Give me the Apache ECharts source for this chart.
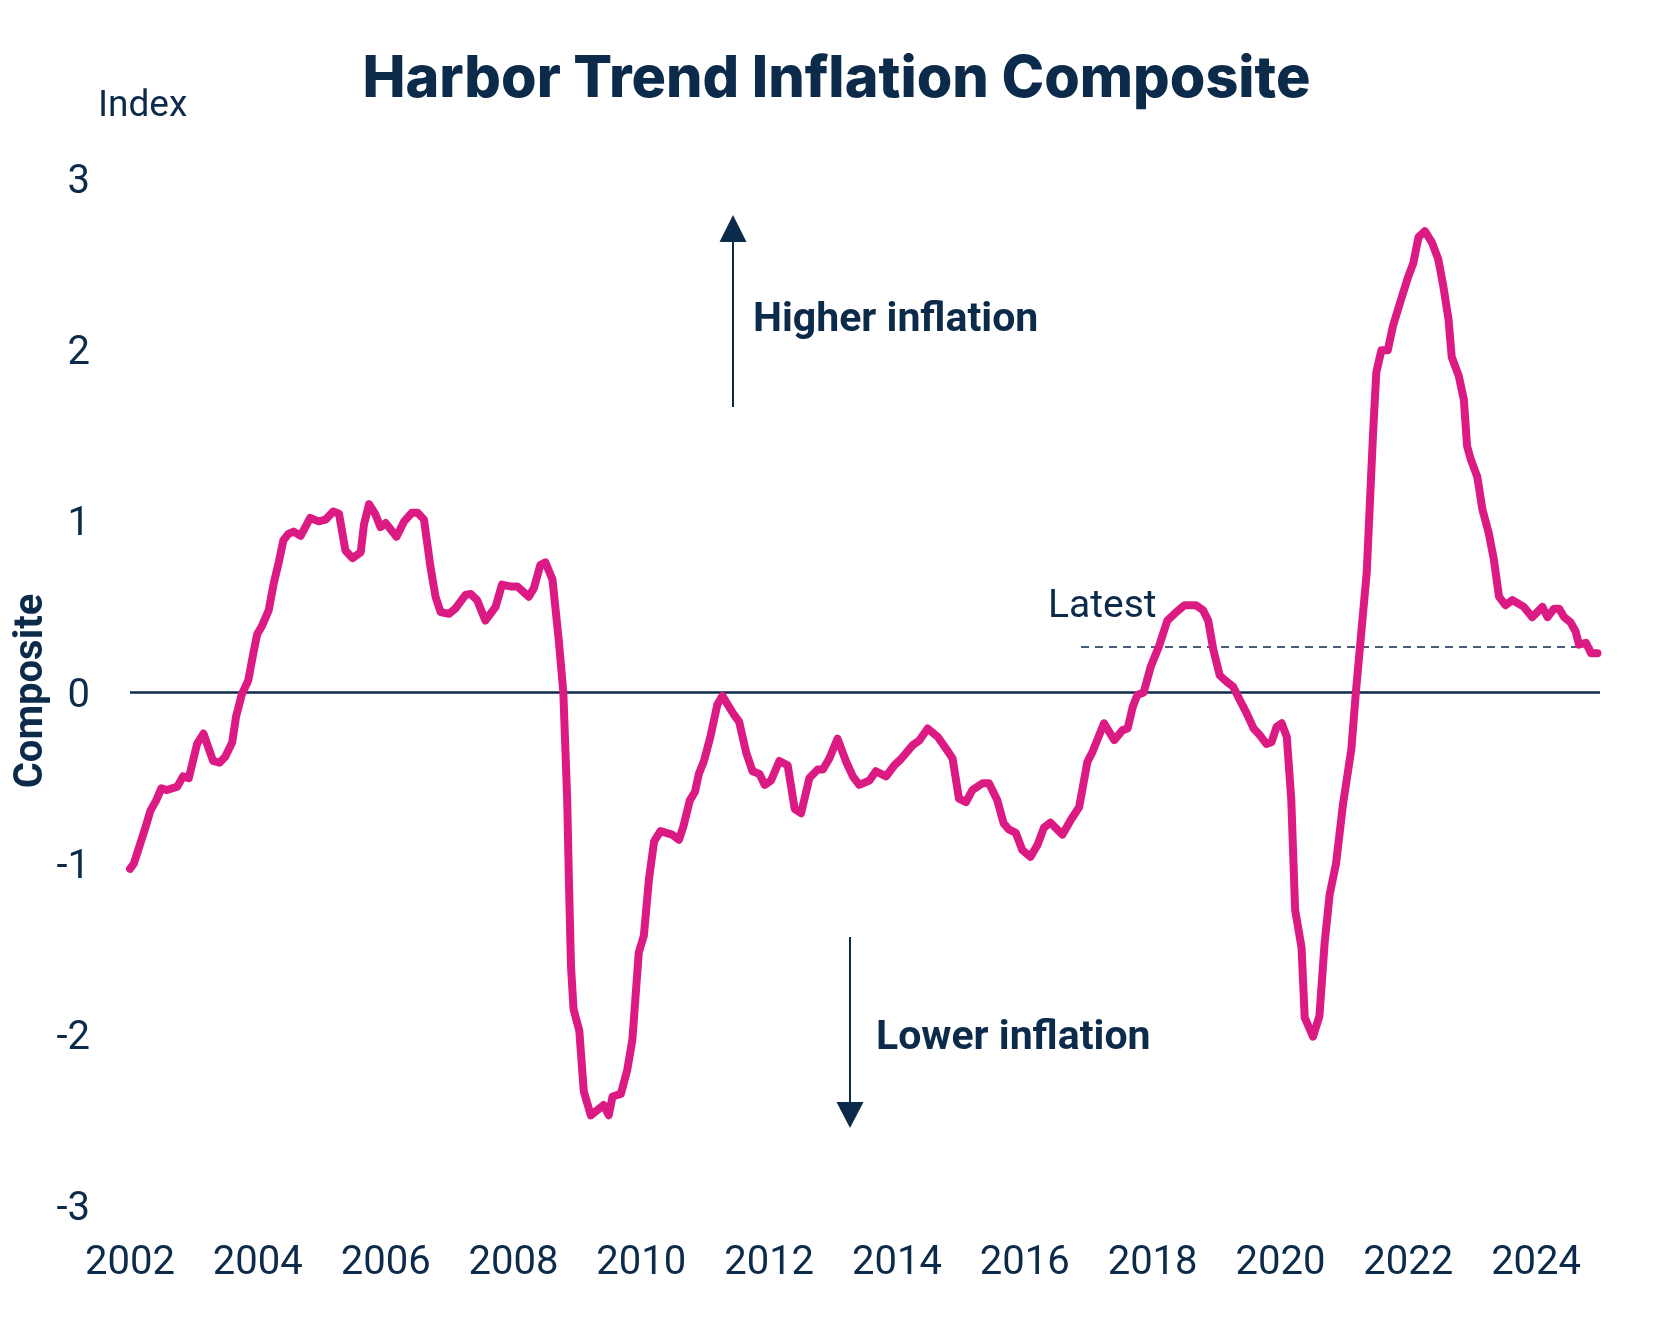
<!DOCTYPE html>
<html>
<head>
<meta charset="utf-8">
<script src="https://cdn.jsdelivr.net/npm/echarts@6/dist/echarts.min.js"></script>
<style>
html,body{margin:0;padding:0;background:#fff;}
#chart{width:1673px;height:1343px;}
</style>
</head>
<body>
<div id="chart"></div>
<script>
// ---- Data (decimal year, composite index) ----
const years = [2002.00,2002.06,2002.24,2002.32,2002.41,2002.49,2002.58,2002.74,2002.83,2002.92,2003.05,2003.15,2003.30,2003.40,2003.49,2003.60,2003.66,2003.75,2003.85,2003.93,2003.99,2004.06,2004.17,2004.25,2004.33,2004.40,2004.48,2004.56,2004.67,2004.82,2004.95,2005.06,2005.18,2005.27,2005.37,2005.48,2005.61,2005.66,2005.74,2005.84,2005.92,2006.00,2006.17,2006.29,2006.41,2006.50,2006.60,2006.70,2006.78,2006.86,2006.99,2007.09,2007.25,2007.33,2007.43,2007.56,2007.72,2007.82,2007.95,2008.06,2008.24,2008.32,2008.42,2008.50,2008.61,2008.71,2008.78,2008.84,2008.87,2008.90,2008.94,2009.03,2009.10,2009.21,2009.41,2009.49,2009.55,2009.68,2009.78,2009.86,2009.96,2010.04,2010.12,2010.20,2010.30,2010.48,2010.59,2010.66,2010.76,2010.84,2010.90,2010.98,2011.08,2011.19,2011.27,2011.35,2011.45,2011.53,2011.64,2011.74,2011.85,2011.93,2012.03,2012.16,2012.29,2012.40,2012.50,2012.63,2012.76,2012.84,2012.94,2013.07,2013.20,2013.31,2013.41,2013.57,2013.67,2013.83,2013.96,2014.06,2014.24,2014.35,2014.48,2014.64,2014.79,2014.87,2014.97,2015.08,2015.18,2015.34,2015.44,2015.57,2015.67,2015.75,2015.86,2015.96,2016.09,2016.20,2016.30,2016.40,2016.59,2016.72,2016.85,2016.98,2017.06,2017.24,2017.40,2017.53,2017.61,2017.69,2017.76,2017.86,2017.97,2018.10,2018.23,2018.37,2018.50,2018.68,2018.79,2018.87,2018.95,2019.05,2019.16,2019.26,2019.39,2019.47,2019.58,2019.68,2019.78,2019.86,2019.94,2020.02,2020.10,2020.17,2020.23,2020.33,2020.38,2020.51,2020.61,2020.69,2020.77,2020.87,2020.98,2021.11,2021.18,2021.35,2021.45,2021.50,2021.58,2021.68,2021.76,2021.89,2022.00,2022.08,2022.16,2022.26,2022.37,2022.47,2022.55,2022.63,2022.68,2022.79,2022.87,2022.92,2022.98,2023.08,2023.16,2023.26,2023.34,2023.42,2023.52,2023.63,2023.81,2023.94,2024.10,2024.18,2024.28,2024.36,2024.44,2024.54,2024.62,2024.67,2024.78,2024.86,2024.96];
const composite = [-1.03,-1.00,-0.79,-0.69,-0.63,-0.56,-0.57,-0.55,-0.49,-0.50,-0.30,-0.24,-0.40,-0.41,-0.375,-0.29,-0.14,-0.01,0.07,0.23,0.34,0.385,0.48,0.64,0.765,0.89,0.927,0.94,0.915,1.02,1.00,1.01,1.057,1.044,0.83,0.785,0.82,0.98,1.10,1.04,0.966,0.99,0.91,1.00,1.05,1.05,1.01,0.736,0.56,0.47,0.46,0.49,0.57,0.576,0.54,0.42,0.50,0.63,0.62,0.62,0.56,0.61,0.745,0.76,0.66,0.30,0.0,-0.62,-1.14,-1.60,-1.85,-1.976,-2.33,-2.47,-2.41,-2.47,-2.36,-2.345,-2.205,-2.03,-1.52,-1.42,-1.09,-0.87,-0.81,-0.83,-0.86,-0.78,-0.63,-0.58,-0.476,-0.40,-0.26,-0.07,-0.02,-0.07,-0.13,-0.17,-0.35,-0.46,-0.476,-0.54,-0.514,-0.40,-0.425,-0.68,-0.705,-0.50,-0.45,-0.45,-0.387,-0.27,-0.40,-0.49,-0.54,-0.514,-0.46,-0.49,-0.425,-0.39,-0.31,-0.28,-0.21,-0.26,-0.34,-0.385,-0.62,-0.64,-0.57,-0.53,-0.53,-0.63,-0.765,-0.80,-0.82,-0.92,-0.96,-0.89,-0.79,-0.76,-0.83,-0.745,-0.67,-0.405,-0.346,-0.18,-0.278,-0.22,-0.21,-0.083,-0.015,0.0,0.15,0.27,0.42,0.47,0.51,0.51,0.48,0.42,0.25,0.10,0.063,0.034,-0.063,-0.12,-0.21,-0.25,-0.30,-0.29,-0.20,-0.18,-0.26,-0.63,-1.27,-1.49,-1.90,-2.01,-1.89,-1.47,-1.18,-1.00,-0.65,-0.33,0.0,0.70,1.52,1.87,2.00,2.00,2.14,2.30,2.43,2.51,2.66,2.695,2.63,2.53,2.37,2.18,1.96,1.85,1.71,1.44,1.36,1.26,1.07,0.93,0.775,0.56,0.51,0.54,0.50,0.44,0.50,0.44,0.49,0.49,0.44,0.41,0.355,0.28,0.29,0.23,0.23];
const yTicks = [-3,-2,-1,0,1,2,3];
const xTickYears = [2002,2004,2006,2008,2010,2012,2014,2016,2018,2020,2022,2024];
const latestLevel = 0.27;
const latestFrom = 2016.88;
const latestTo = 2024.88;

const NAVY = '#0c2a4a';
const PINK = '#dc1a84';

const chart = echarts.init(document.getElementById('chart'), null, {renderer:'canvas'});
const seriesData = years.map((y,i)=>[y, composite[i]]);

chart.setOption({
  animation:false,
  backgroundColor:'#fff',
  title:{
    text:'Harbor Trend Inflation Composite',
    left:'center', top:46,
    textStyle:{fontFamily:'Inter', fontWeight:800, fontSize:57.5, color:NAVY}
  },
  grid:{left:130, right:73, top:179, bottom:137, containLabel:false},
  xAxis:{
    type:'value', min:2002, max:2025, interval:2,
    axisLine:{show:false}, axisTick:{show:false}, splitLine:{show:false},
    axisLabel:{
      show:true, margin:38, fontFamily:'Roboto', fontSize:40, color:NAVY,
      showMaxLabel:false,
      formatter:(v)=> xTickYears.includes(v) ? String(v) : ''
    }
  },
  yAxis:{
    type:'value', min:yTicks[0], max:yTicks[yTicks.length-1], interval:1,
    axisLine:{show:false}, axisTick:{show:false}, splitLine:{show:false},
    axisLabel:{margin:40, fontFamily:'Roboto', fontSize:40, color:NAVY, align:'right',
      formatter:(v)=> '{t|' + v + '}',
      rich:{t:{fontFamily:'Roboto', fontSize:40, color:NAVY, padding:[8,0,0,0]}}}
  },
  series:[{
    type:'line',
    data:seriesData,
    showSymbol:false,
    lineStyle:{color:PINK, width:8, cap:'round', join:'round'},
    z:3,
    markLine:{
      silent:true, symbol:['none','none'], animation:false,
      label:{show:false},
      data:[
        [{coord:[2002, 0], lineStyle:{color:NAVY, width:2.5, type:'solid'}},{coord:[2025, 0]}],
        [{coord:[latestFrom, latestLevel], lineStyle:{color:NAVY, width:1.5, type:[8,6]}},{coord:[latestTo, latestLevel]}]
      ],
      z:2
    }
  }],
  graphic:[
    {type:'text', left:98, top:88, style:{text:'Index', fontFamily:'Roboto', fontSize:37, fill:NAVY}},
    {type:'text', x:32, y:691, rotation:Math.PI/2,
      style:{text:'Composite', fontFamily:'Roboto', fontWeight:'bold', fontSize:40, fill:NAVY, align:'center', verticalAlign:'middle'}},
    // Higher inflation arrow
    {type:'line', shape:{x1:733, y1:407, x2:733, y2:240}, style:{stroke:NAVY, lineWidth:2}},
    {type:'polygon', shape:{points:[[733,215],[719.5,242],[746.5,242]]}, style:{fill:NAVY}},
    {type:'text', x:753, y:321, style:{text:'Higher inflation', fontFamily:'Roboto', fontWeight:'bold', fontSize:41, fill:NAVY, verticalAlign:'middle'}},
    // Lower inflation arrow
    {type:'line', shape:{x1:850, y1:937, x2:850, y2:1104}, style:{stroke:NAVY, lineWidth:2}},
    {type:'polygon', shape:{points:[[850,1128],[836.5,1102],[863.5,1102]]}, style:{fill:NAVY}},
    {type:'text', x:876, y:1039, style:{text:'Lower inflation', fontFamily:'Roboto', fontWeight:'bold', fontSize:41, fill:NAVY, verticalAlign:'middle'}},
    {type:'text', x:1048, y:607, style:{text:'Latest', fontFamily:'Roboto', fontSize:39, fill:NAVY, verticalAlign:'middle'}}
  ]
});
</script>
</body>
</html>
